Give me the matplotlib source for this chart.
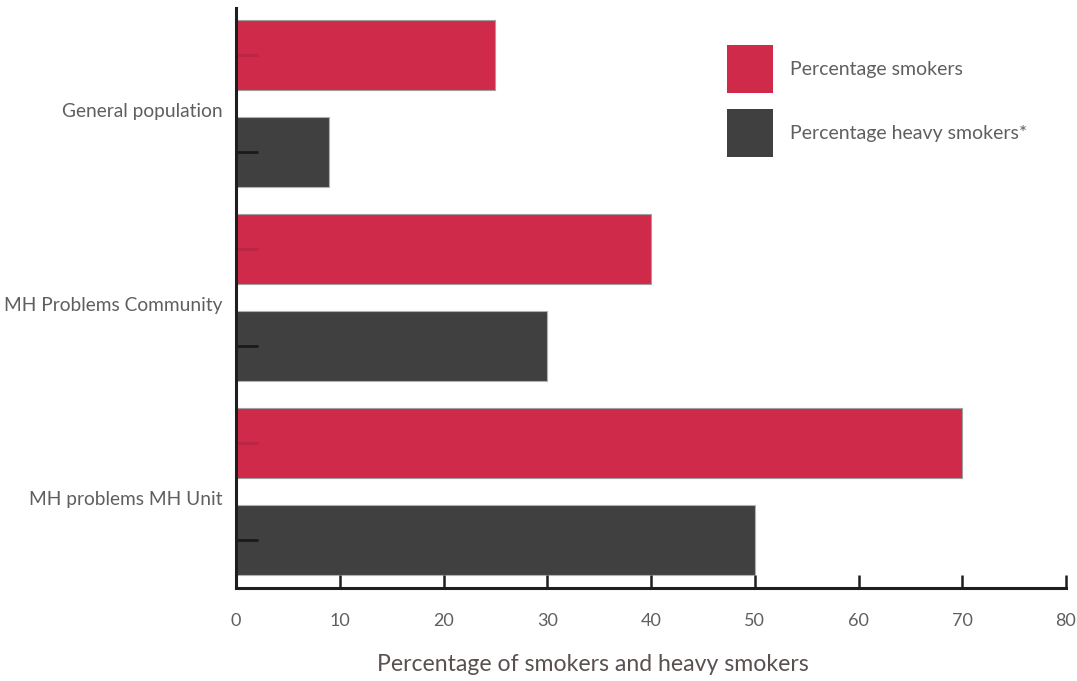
import matplotlib
matplotlib.use("Agg")
import matplotlib.pyplot as plt
from matplotlib.patches import Patch
import numpy as np

categories = ["General population", "MH Problems Community", "MH problems MH Unit"]
pct_smokers = [25, 40, 70]
pct_heavy_smokers = [9, 30, 50]
series_labels = ["Percentage smokers", "Percentage heavy smokers*"]
xticks = [0, 10, 20, 30, 40, 50, 60, 70, 80]

RED = "#cf2a4a"
DARK = "#404040"
TEXT = "#5f5f5f"
AXIS = "#1e1e1e"

plt.rcParams["font.family"] = ["Lato", "DejaVu Sans"]

fig = plt.figure(figsize=(10.77, 6.81), dpi=100)
ax = fig.add_axes([236 / 1077, 1 - 588 / 681, (1066 - 236) / 1077, (588 - 8) / 681])

pos_red = np.arange(len(categories)) * 2
pos_dark = pos_red + 1
ax.barh(pos_red, pct_smokers, height=0.72, color=RED, edgecolor="#a0a0a0", linewidth=0.8, zorder=1)
ax.barh(pos_dark, pct_heavy_smokers, height=0.72, color=DARK, edgecolor="#b0b0b0", linewidth=0.8, zorder=1)

ax.set_xlim(0, 80)
ax.set_ylim(5.495, -0.485)

for s in ["top", "right"]:
    ax.spines[s].set_visible(False)
for s in ["left", "bottom"]:
    ax.spines[s].set_linewidth(2.2)
    ax.spines[s].set_color(AXIS)

# small tick marks on each bar, labels in between
ax.set_yticks(sorted(list(pos_red) + list(pos_dark)))
ax.set_yticklabels([])
ax.tick_params(axis="y", which="major", direction="in", length=16, width=2, color="#1a1a1a")
for i, t in enumerate(ax.yaxis.get_major_ticks()):
    if i % 2 == 0:
        t.tick1line.set_markeredgecolor("#b92742")
ax.set_yticks(pos_red + 0.57, minor=True)
ax.set_yticklabels(categories, minor=True)
ax.tick_params(axis="y", which="minor", length=0, pad=9.5, labelsize=13.8, labelcolor=TEXT)

ax.set_xticks(xticks)
ax.tick_params(axis="x", direction="in", length=9.5, width=1.8, color=AXIS,
               pad=18, labelsize=13, labelcolor=TEXT)
ax.set_xlabel("Percentage of smokers and heavy smokers", fontsize=16.6, color="#5a5050")
ax.xaxis.set_label_coords((592.5 - 236) / 830, -66 / 580, transform=ax.transAxes)

handles = [Patch(facecolor=RED), Patch(facecolor=DARK)]
fig.legend(handles, series_labels, loc="upper left",
           bbox_to_anchor=(727 / 1077, 1 - 45 / 681), frameon=False,
           fontsize=14, labelcolor=TEXT, handlelength=2.36, handleheight=3.45,
           labelspacing=0.8, handletextpad=0.87, borderpad=0, borderaxespad=0)

fig.savefig("out.png", dpi=100)
